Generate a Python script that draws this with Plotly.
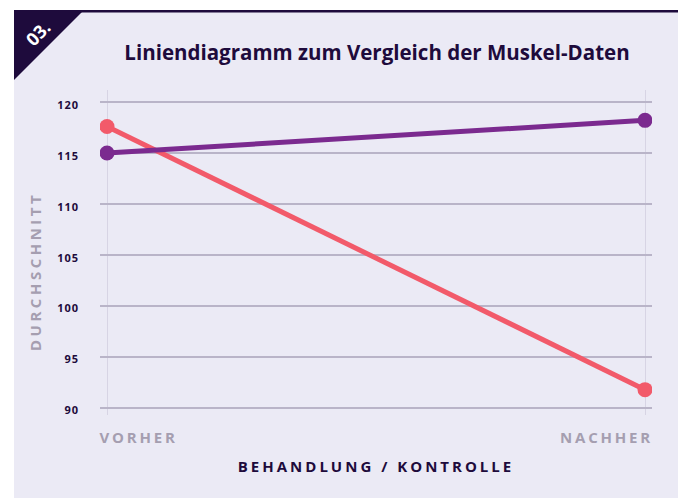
import plotly.graph_objects as go

# ---- data ----
categories = ["VORHER", "NACHHER"]
series_red = [117.6, 91.8]
series_purple = [115.0, 118.2]
y_ticks = [90, 95, 100, 105, 110, 115, 120]

# ---- layout geometry (page has an 8px body margin) ----
OFF = 8
W, H = 686 - OFF, 498 - OFF
L, R, T, B = 100 - OFF, 34, 90 - OFF, 83
PW, PH = W - L - R, H - T - B
BG = "#ebeaf5"
DARK = "#1e0b3c"
GREY = "#a59eb0"
RED = "#f25a6a"
PURPLE = "#7b2a8f"
GRID = "#b9b4c8"
VGRID = "#d7d4e4"
FONT = "Open Sans"


def px(x):  # reference-window pixel -> paper x
    return (x - OFF - L) / PW


def py(y):  # reference-window pixel -> paper y
    return (H + OFF - B - y) / PH


def spaced(text, sp):
    return f'<span style="letter-spacing:{sp}px">{text}</span>'


fig = go.Figure()
fig.add_trace(go.Scatter(x=categories, y=series_red, mode="lines+markers",
                         line=dict(color=RED, width=5),
                         marker=dict(color=RED, size=15), name="Rot",
                         showlegend=False))
fig.add_trace(go.Scatter(x=categories, y=series_purple, mode="lines+markers",
                         line=dict(color=PURPLE, width=5),
                         marker=dict(color=PURPLE, size=15), name="Lila",
                         showlegend=False))
# helper trace for the label axes
fig.add_trace(go.Scatter(x=[0, 1], y=[100, 100], xaxis="x2", yaxis="y2",
                         mode="none", hoverinfo="skip", showlegend=False))

shapes = [
    dict(type="rect", xref="paper", yref="paper", x0=px(OFF), x1=px(14),
         y0=py(500), y1=py(OFF), fillcolor="white", line_width=0),
    dict(type="rect", xref="paper", yref="paper", x0=px(OFF), x1=px(700),
         y0=py(10), y1=py(OFF), fillcolor="white", line_width=0),
    dict(type="rect", xref="paper", yref="paper", x0=px(14), x1=px(700),
         y0=py(12.5), y1=py(10), fillcolor=DARK, line_width=0),
    dict(type="path", xref="paper", yref="paper",
         path=f"M {px(14)},{py(10)} L {px(84)},{py(10)} L {px(14)},{py(80)} Z",
         fillcolor=DARK, line_width=0),
]

annotations = [
    dict(text="03.", xref="paper", yref="paper", x=px(38), y=py(33),
         xanchor="center", yanchor="middle", showarrow=False, textangle=-45,
         font=dict(family=FONT, size=18, color="white", weight=700)),
    dict(text=spaced("DURCHSCHNITT", 3.5), xref="paper", yref="paper",
         x=px(35), y=py(272), xanchor="center", yanchor="middle",
         showarrow=False, textangle=-90,
         font=dict(family=FONT, size=15, color=GREY, weight=700)),
]

# main x axis: category positions 0 and 1 at pixels 107 and 645
xr = [-7 / 538, 1 + 7 / 538]
# label positions (label centres at ~138 and ~607 px)
label_pos = [0 + 31.5 / 538, 1 - 38.5 / 538]

fig.update_layout(
    width=W, height=H,
    margin=dict(l=L, r=R, t=T, b=B),
    paper_bgcolor=BG, plot_bgcolor=BG,
    title=dict(text="Liniendiagramm zum Vergleich der Muskel-Daten",
               x=(377 - OFF) / W, xanchor="center", y=1 - (53 - OFF) / H,
               yanchor="middle",
               font=dict(family=FONT, size=20.5, color=DARK, weight=700)),
    xaxis=dict(type="category", range=xr, showgrid=True,
               gridcolor=VGRID, gridwidth=1, zeroline=False, showline=False,
               showticklabels=False, ticks="",
               title=dict(text=spaced("BEHANDLUNG / KONTROLLE", 3), standoff=46,
                          font=dict(family=FONT, size=15, color=DARK, weight=700))),
    xaxis2=dict(overlaying="x", anchor="y", side="bottom", range=xr,
                showgrid=False, zeroline=False, showline=False, ticks="",
                tickvals=label_pos,
                ticktext=[spaced(c, 2.8) for c in categories],
                ticklabelstandoff=12,
                tickfont=dict(family=FONT, size=15, color=GREY, weight=700)),
    yaxis=dict(range=[90 - 7 / 10.2, 120 + 12 / 10.2], tickvals=y_ticks,
               showgrid=True, gridcolor=GRID, gridwidth=1.5, zeroline=False,
               showline=False, ticks="", showticklabels=False),
    yaxis2=dict(overlaying="y", anchor="x", side="left",
                range=[90 - 5 / 10.157, 120 + 15.3 / 10.157],
                tickvals=y_ticks, ticktext=[spaced(str(v), 1) for v in y_ticks],
                showgrid=False, zeroline=False, showline=False, ticks="",
                ticklabelstandoff=20,
                tickfont=dict(family=FONT, size=11, color=DARK, weight=700)),
    shapes=shapes,
    annotations=annotations,
)

fig.write_html("out.html")
